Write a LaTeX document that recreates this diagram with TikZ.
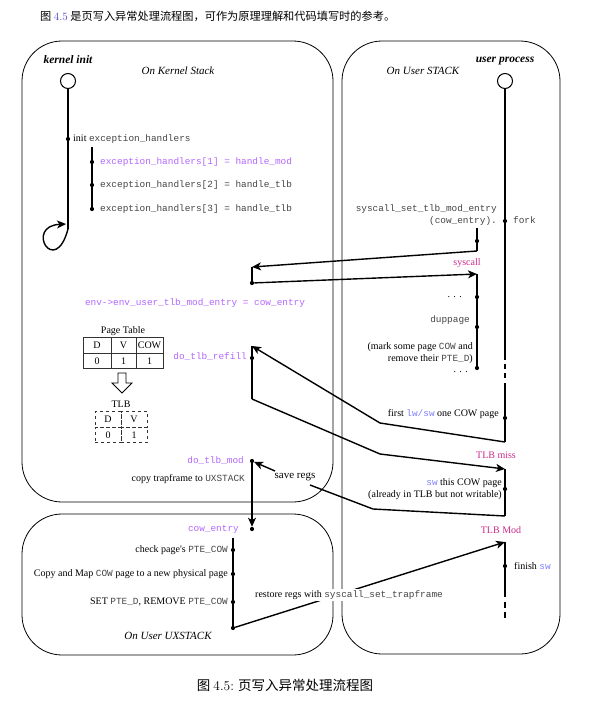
\documentclass[tikz,border=0pt]{standalone}
\usepackage{fontspec}
\newfontfamily\tms{Liberation Serif}
\newfontfamily\crr{Liberation Mono}
\newfontfamily\cjk{Noto Sans CJK SC}
\usetikzlibrary{arrows.meta}
\definecolor{vio}{HTML}{B366FF}
\definecolor{lblue}{HTML}{7F7FFF}
\definecolor{mag}{HTML}{CC2A8C}
\definecolor{ttgray}{HTML}{444444}
\definecolor{linkblue}{HTML}{3F3FC8}
\newcommand\ttc[1]{{\crr\fontsize{9.4}{11}\selectfont\color{ttgray}#1}}
\newcommand\ttv[1]{{\crr\fontsize{9.4}{11}\selectfont\color{vio}#1}}
\newcommand\ttb[1]{{\crr\fontsize{9.4}{11}\selectfont\color{lblue}#1}}
\begin{document}
\begin{tikzpicture}[x=1pt,y=-1pt,
  every node/.style={inner sep=0pt,font=\tms\fontsize{10}{12}\selectfont},
  dot/.style={circle,fill=black,inner sep=0pt,minimum size=4.2pt},
  flow/.style={line width=1.4pt},
  arr/.style={line width=1.4pt,-{Stealth[length=9pt,width=8pt,inset=2.5pt]}},
  box/.style={draw,line width=0.8pt,rounded corners=40pt},
  start/.style={circle,draw,line width=1pt,minimum size=15pt,inner sep=0pt},
  hdr/.style={font=\tms\fontsize{11}{13}\selectfont\itshape},
  ttl/.style={font=\tms\fontsize{11.5}{13}\selectfont\bfseries\itshape},
  lbl/.style={text=mag},
  cell/.style={draw=black!80,line width=0.7pt,minimum height=15.5pt,inner sep=0pt},
  dcell/.style={draw=black!80,dashed,line width=0.7pt,minimum height=15.5pt,inner sep=0pt}
]
\useasboundingbox (0,0) rectangle (598,705);

% top sentence and caption
\node[anchor=west] (top) at (40,16) {\cjk\fontsize{11.2}{12}\selectfont 图 {\fontfamily{lmr}\selectfont\color{linkblue}4.5} 是页写入异常处理流程图，可作为原理理解和代码填写时的参考。};
\node (cap) at (285,685) {\cjk\fontsize{13.5}{14}\selectfont 图 {\fontfamily{lmr}\selectfont 4.5:} 页写入异常处理流程图};

% boxes
\draw[box] (22,41) rectangle (333,502);
\draw[box] (342,41) rectangle (560,654);
\draw[box] (22,514) rectangle (333,655);

% ---------- kernel init ----------
\node[ttl] (kinit) at (68,60) {kernel init};
\node[hdr] (kstack) at (178,71) {On Kernel Stack};
\node[start] (kc) at (68,81) {};
\node[dot] (k1) at (68,139) {};
\coordinate (kend) at (68,229);
\coordinate (kback) at (66,224);
\draw[flow] (kc) -- (k1) -- (kend);
\draw[arr] (kend) .. controls (55,278) and (24,226) .. (kback);
\node[anchor=west] (k1t) at (73,139) {init \ttc{exception\_handlers}};

\coordinate (s0) at (92,147);
\node[dot] (s1) at (92,162) {};
\node[dot] (s2) at (92,185) {};
\node[dot] (s3) at (92,209) {};
\draw[flow] (s0) -- (s1) -- (s2) -- (s3.center);
\node[anchor=west] (s1t) at (100,162) {\ttv{exception\_handlers[1] = handle\_mod}};
\node[anchor=west] (s2t) at (100,185) {\ttc{exception\_handlers[2] = handle\_tlb}};
\node[anchor=west] (s3t) at (100,209) {\ttc{exception\_handlers[3] = handle\_tlb}};

% ---------- user process ----------
\node[ttl] (uproc) at (505,61) {user process};
\node[hdr] (ustack) at (423,71) {On User STACK};
\node[start] (uc) at (505,81) {};
\node[dot] (uf) at (505,221) {};
\coordinate (u1) at (505,360);
\draw[flow] (uc) -- (uf) -- (u1);
\coordinate (ud1a) at (505,364); \coordinate (ud1b) at (505,369);
\coordinate (ud2a) at (505,373); \coordinate (ud2b) at (505,378);
\draw[flow] (ud1a) -- (ud1b) (ud2a) -- (ud2b);
\node[anchor=west] (forkt) at (513,220) {\ttc{fork}};
\node[anchor=east] (sst1) at (497,209) {\ttc{syscall\_set\_tlb\_mod\_entry}};
\node[anchor=east] (sst2) at (497,221) {\ttc{(cow\_entry).}};

% syscall exchange
\coordinate (a0) at (477,228);
\node[dot] (a1) at (477,241) {};
\coordinate (a2) at (477,251);
\draw[flow] (a0) -- (a1) -- (a2);
\coordinate (b0) at (252,267);
\draw[arr] (a2) -- (b0);
\node[dot] (b1) at (252,283) {};
\draw[flow] (b0) -- (b1.center);
\coordinate (c0) at (477,274);
\draw[arr] (b1) -- (c0);
\node[dot] (c1) at (477,297) {};
\node[dot] (c2) at (477,327) {};
\node[dot] (c3) at (477,368) {};
\draw[flow] (c0) -- (c1) -- (c2) -- (c3);
\node[lbl] (sysl) at (467,263) {syscall};
\node[anchor=east] (dots1) at (462,297) {. . .};
\node[anchor=east] (dupt) at (470,320) {\ttc{duppage}};
\node[anchor=east,align=right,font=\tms\fontsize{10}{11.5}\selectfont] (markt) at (473,353) {(mark some page \ttc{COW} and\\ remove their \ttc{PTE\_D})};
\node[anchor=east] (dots2) at (468,372) {. . .};

\node (envt) at (195,303) {\ttv{env->env\_user\_tlb\_mod\_entry = cow\_entry}};

% page table
\node (ptt) at (123,331) {Page Table};
\node[cell,minimum width=28pt] (p1) at (97,345.5) {D};
\node[cell,minimum width=25pt] (p2) at (123.5,345.5) {V};
\node[cell,minimum width=27pt] (p3) at (149.5,345.5) {COW};
\node[cell,minimum width=28pt] (p4) at (97,361) {0};
\node[cell,minimum width=25pt] (p5) at (123.5,361) {1};
\node[cell,minimum width=27pt] (p6) at (149.5,361) {1};
\draw[line width=0.8pt] (118,373) -- (126,373) -- (126,383) -- (132,383) -- (122,393) -- (112,383) -- (118,383) -- cycle;
\node (tlbt) at (121,404) {TLB};
\node[dcell,minimum width=26pt] (t1) at (108,419.5) {D};
\node[dcell,minimum width=26pt] (t2) at (134,419.5) {V};
\node[dcell,minimum width=26pt] (t3) at (108,435) {0};
\node[dcell,minimum width=26pt] (t4) at (134,435) {1};

% TLB refill loop
\coordinate (r0) at (252,346);
\node[dot] (r1) at (252,358) {};
\coordinate (r2) at (252,399);
\draw[flow] (r0) -- (r1) -- (r2);
\node[anchor=east] (reft) at (247,357) {\ttv{do\_tlb\_refill}};

\coordinate (u2) at (505,383);
\node[dot] (ul) at (505,418) {};
\coordinate (u5) at (505,442);
\draw[flow] (u2) -- (ul) -- (u5);
\node[anchor=east] (firstt) at (499,414) {first \ttb{lw/sw} one COW page};

\coordinate (pa) at (380,423);
\draw[arr] (u5) -- (pa) -- (r0);
\coordinate (pb) at (380,454);
\coordinate (u6) at (505,469);
\draw[arr] (r2) -- (pb) -- (u6);
\node[lbl] (missl) at (496,455) {TLB miss};

\node[dot] (us) at (505,489) {};
\coordinate (u7) at (505,516);
\draw[flow] (u6) -- (us) -- (u7);
\node[anchor=east,align=right] (swt) at (502,489) {\ttb{sw} this COW page\\(already in TLB but not writable)};

% TLB mod
\node (srt) at (295,477) {\fontsize{11}{13}\selectfont save regs};
\coordinate (pc) at (373,509);
\coordinate (pcend) at (310,485);
\draw[flow] (u7) -- (pc) -- (pcend);
\node[dot] (dmod) at (252,461) {};
\coordinate (srs) at (275,471);
\draw[arr] (srs) -- (dmod);
\node[anchor=east] (modt) at (244,461) {\ttv{do\_tlb\_mod}};
\node[anchor=east] (copyt) at (245,479) {copy trapframe to \ttc{UXSTACK}};

\node[dot] (dcow) at (252,529) {};
\draw[arr] (dmod) -- (dcow);
\node[anchor=east] (cowt) at (239,529) {\ttv{cow\_entry}};

% UXSTACK
\coordinate (e0) at (233,538);
\node[dot] (e1) at (233,550) {};
\node[dot] (e2) at (233,574) {};
\node[dot] (e3) at (233,602) {};
\node[dot] (e4) at (233,628) {};
\draw[flow] (e0) -- (e1) -- (e2) -- (e3) -- (e4.center);
\node[anchor=east] (e1t) at (228,550) {check page's \ttc{ PTE\_COW}};
\node[anchor=east] (e2t) at (228,574) {Copy and Map \ttc{COW} page to a new physical page};
\node[anchor=east] (e3t) at (228,602) {SET \ttc{ PTE\_D}, REMOVE \ttc{PTE\_COW}};
\node[hdr] (uxs) at (168,636) {On User UXSTACK};

\coordinate (u8) at (505,542);
\draw[arr] (e4) -- (u8);
\node[fill=white,inner sep=1pt] (rest) at (349,595) {restore regs with \ttc{syscall\_set\_trapframe}};
\node[lbl] (modl) at (501,530) {TLB Mod};

\node[dot] (ufin) at (505,566) {};
\coordinate (u9) at (505,597);
\draw[flow] (u8) -- (ufin) -- (u9);
\coordinate (ud3a) at (505,602); \coordinate (ud3b) at (505,608);
\coordinate (ud4a) at (505,612); \coordinate (ud4b) at (505,618);
\draw[flow] (ud3a) -- (ud3b) (ud4a) -- (ud4b);
\node[anchor=west] (fint) at (514,566) {finish \ttb{sw}};
\end{tikzpicture}
\end{document}
